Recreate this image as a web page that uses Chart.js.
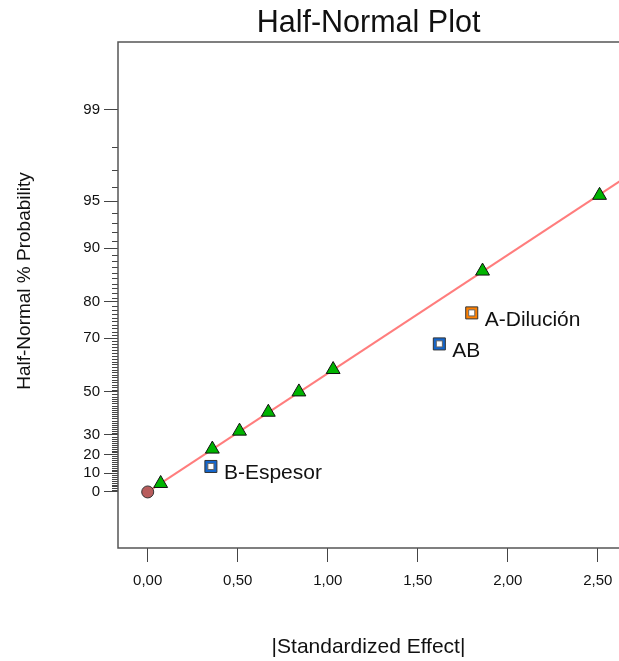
<!DOCTYPE html>
<html>
<head>
<meta charset="utf-8">
<script src="https://cdn.jsdelivr.net/npm/chart.js@4"></script>
<style>
  html, body { margin: 0; padding: 0; background: #fff; }
  canvas { display: block; }
</style>
</head>
<body>
<canvas id="halfNormalChart" width="619" height="661"></canvas>
<script>
// Efectos del error (triángulos verdes)
const errorEffects = [0.072, 0.359, 0.51, 0.67, 0.84, 1.03, 1.86, 2.51];
const errorProb = [4.55, 22.73, 31.82, 40.91, 50.0, 59.09, 86.36, 95.45];

// Términos del modelo (cuadrados)
const termNames = ['B-Espesor', 'AB', 'A-Dilución'];
const termEffects = [0.351, 1.62, 1.80];
const termProb = [13.64, 68.18, 77.27];
const termColors = ['#1466cc', '#1466cc', '#ff8000'];

// Línea de referencia
const lineEffects = [0, 2.7];
const lineProb = [0, 96.9];

// Ticks
const yTickPct = [0, 10, 20, 30, 50, 70, 80, 90, 95, 99];
const xTicks = [0, 0.5, 1.0, 1.5, 2.0, 2.5];

const FONT = '"Liberation Sans", Arial, sans-serif';

// Escala half-normal: % -> cuantil z
function invNorm(p) {
    const a = [-3.969683028665376e+01, 2.209460984245205e+02, -2.759285104469687e+02, 1.383577518672690e+02, -3.066479806614716e+01, 2.506628277459239e+00];
    const b = [-5.447609879822406e+01, 1.615858368580409e+02, -1.556989798598866e+02, 6.680131188771972e+01, -1.328068155288572e+01];
    const c = [-7.784894002430293e-03, -3.223964580411365e-01, -2.400758277161838e+00, -2.549732539343734e+00, 4.374664141464968e+00, 2.938163982698783e+00];
    const d = [7.784695709041462e-03, 3.224671290700398e-01, 2.445134137142996e+00, 3.754408661907416e+00];
    const pl = 0.02425;
    let q, r;
    if (p < pl) {
        q = Math.sqrt(-2 * Math.log(p));
        return (((((c[0]*q+c[1])*q+c[2])*q+c[3])*q+c[4])*q+c[5]) / ((((d[0]*q+d[1])*q+d[2])*q+d[3])*q+1);
    }
    if (p > 1 - pl) {
        q = Math.sqrt(-2 * Math.log(1 - p));
        return -(((((c[0]*q+c[1])*q+c[2])*q+c[3])*q+c[4])*q+c[5]) / ((((d[0]*q+d[1])*q+d[2])*q+d[3])*q+1);
    }
    q = p - 0.5;
    r = q * q;
    return (((((a[0]*r+a[1])*r+a[2])*r+a[3])*r+a[4])*r+a[5])*q / (((((b[0]*r+b[1])*r+b[2])*r+b[3])*r+b[4])*r+1);
}
function hn(pct) { return invNorm(0.5 + pct / 200); }

const toPoints = (xs, ps) => xs.map((x, i) => ({ x: x, y: hn(ps[i]) }));

// Marco, ticks menores, título del eje Y y etiquetas
const extrasPlugin = {
    id: 'extras',
    afterDatasetsDraw(chart) {
        const ctx = chart.ctx;
        const meta = chart.getDatasetMeta(2);
        ctx.save();
        ctx.font = '21px ' + FONT;
        ctx.fillStyle = '#111';
        ctx.textBaseline = 'middle';
        ctx.textAlign = 'left';
        meta.data.forEach((el, i) => {
            ctx.fillText(termNames[i], el.x + 13, el.y + 7);
        });
        ctx.restore();
    },
    afterDraw(chart) {
        const ctx = chart.ctx;
        const area = chart.chartArea;
        const yScale = chart.scales.y;
        ctx.save();
        ctx.strokeStyle = '#444';
        ctx.lineWidth = 1;
        ctx.beginPath();
        for (let p = 1; p < 99; p++) {
            if (yTickPct.includes(p)) continue;
            const y = Math.round(yScale.getPixelForValue(hn(p))) + 0.5;
            ctx.moveTo(area.left - 6, y);
            ctx.lineTo(area.left, y);
        }
        ctx.stroke();
        ctx.strokeStyle = '#555';
        ctx.lineWidth = 1.5;
        ctx.strokeRect(area.left, area.top, area.right - area.left + 2, area.bottom - area.top);

        // título del eje Y
        ctx.translate(25, (area.top + area.bottom) / 2 - 14);
        ctx.rotate(-Math.PI / 2);
        ctx.font = '19px ' + FONT;
        ctx.fillStyle = '#111';
        ctx.textAlign = 'center';
        ctx.textBaseline = 'middle';
        ctx.fillText('Half-Normal % Probability', 0, 0);
        ctx.restore();
    }
};

new Chart(document.getElementById('halfNormalChart'), {
    type: 'scatter',
    data: {
        datasets: [{
            // triángulos
            data: toPoints(errorEffects, errorProb),
            pointStyle: 'triangle',
            pointRadius: 8,
            backgroundColor: '#00b400',
            borderColor: '#111',
            borderWidth: 1,
            order: 1
        }, {
            // origen
            data: [{ x: 0, y: 0 }],
            pointStyle: 'circle',
            pointRadius: 6,
            backgroundColor: '#b85c5c',
            borderColor: '#333',
            borderWidth: 1,
            order: 2
        }, {
            // cuadrados exteriores
            data: toPoints(termEffects, termProb),
            pointStyle: 'rect',
            pointRadius: 8.5,
            backgroundColor: termColors,
            borderColor: '#333',
            borderWidth: 1,
            order: 3
        }, {
            // centro blanco
            data: toPoints(termEffects, termProb),
            pointStyle: 'rect',
            pointRadius: 4.3,
            backgroundColor: '#fff',
            borderColor: '#666',
            borderWidth: 1,
            order: 0
        }, {
            data: toPoints(lineEffects, lineProb),
            showLine: true,
            pointRadius: 0,
            borderColor: '#ff7d7d',
            borderWidth: 2,
            order: 10
        }]
    },
    options: {
        responsive: false,
        animation: false,
        layout: { padding: 0, autoPadding: false },
        plugins: {
            legend: { display: false },
            tooltip: { enabled: false },
            title: {
                display: true,
                text: 'Half-Normal Plot',
                fullSize: false,
                color: '#111',
                font: { family: FONT, size: 30.5, weight: 'normal', lineHeight: 1.2 },
                padding: { top: 5, bottom: 0.4 }
            }
        },
        scales: {
            x: {
                type: 'linear',
                min: -0.165,
                max: 2.618,
                afterBuildTicks: (scale) => { scale.ticks = xTicks.map(v => ({ value: v })); },
                afterFit: (scale) => {
                    scale.height = 113;
                    scale.paddingLeft = 0;
                    scale.paddingRight = 0;
                },
                ticks: {
                    color: '#111',
                    font: { family: FONT, size: 15 },
                    padding: 10,
                    maxRotation: 0,
                    autoSkip: false,
                    callback: (v) => Number(v).toFixed(2).replace('.', ',')
                },
                grid: { drawOnChartArea: false, tickLength: 14, tickColor: '#444', tickWidth: 1 },
                border: { display: false },
                title: {
                    display: true,
                    text: '|Standardized Effect|',
                    color: '#111',
                    font: { family: FONT, size: 21, lineHeight: 1.2 },
                    padding: { top: 0, bottom: 1 }
                }
            },
            y: {
                type: 'linear',
                min: -0.378,
                max: 3.034,
                afterBuildTicks: (scale) => { scale.ticks = yTickPct.map(p => ({ value: hn(p) })); },
                afterFit: (scale) => {
                    scale.width = 118;
                    scale.paddingTop = 0;
                    scale.paddingBottom = 0;
                },
                ticks: {
                    color: '#111',
                    font: { family: FONT, size: 15 },
                    padding: 4,
                    autoSkip: false,
                    callback: (v, i) => yTickPct[i]
                },
                grid: { drawOnChartArea: false, tickLength: 14, tickColor: '#444', tickWidth: 1 },
                border: { display: false }
            }
        }
    },
    plugins: [extrasPlugin]
});
</script>
</body>
</html>
